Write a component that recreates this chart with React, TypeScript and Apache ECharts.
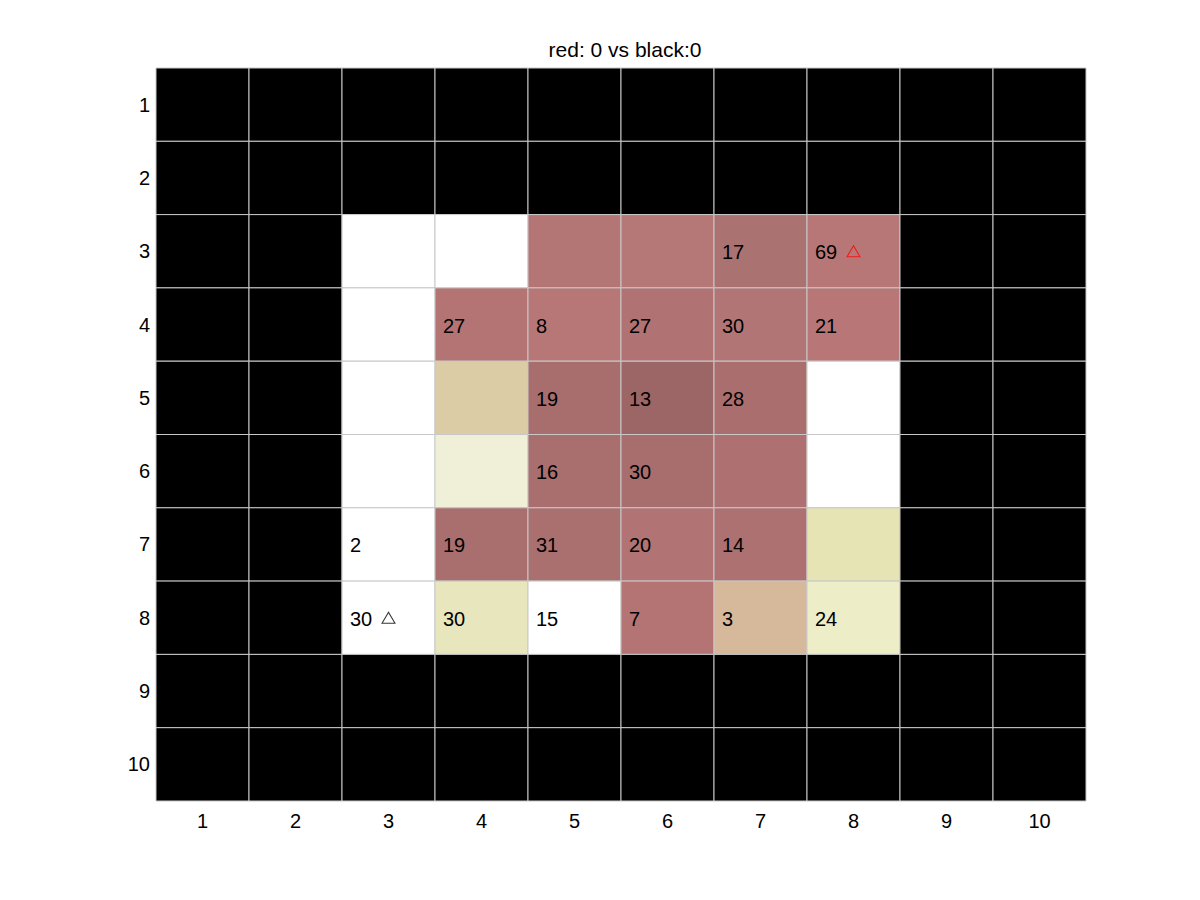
import React, { useEffect, useRef } from "react";
import * as echarts from "echarts";

const xLabels = ["1", "2", "3", "4", "5", "6", "7", "8", "9", "10"];
const yLabels = ["1", "2", "3", "4", "5", "6", "7", "8", "9", "10"];

const K = "#000000";
const W = "#ffffff";
// cell colours, row by row (row 1 at top), column 1..10
const cellColors: string[][] = [
  [K, K, K, K, K, K, K, K, K, K],
  [K, K, K, K, K, K, K, K, K, K],
  [K, K, W, W, "#b47575", "#b67777", "#ab7272", "#b87777", K, K],
  [K, K, W, "#b47474", "#b77777", "#b07272", "#b27575", "#b87676", K, K],
  [K, K, W, "#dbcca5", "#a86e6e", "#9d6666", "#aa6e6e", W, K, K],
  [K, K, W, "#f0f0d8", "#a96e6e", "#a86e6e", "#ae7070", W, K, K],
  [K, K, W, "#a96e6e", "#aa6f6f", "#b17373", "#ad7171", "#e6e4b4", K, K],
  [K, K, W, "#e8e6bc", W, "#b47474", "#d6b89a", "#ededc8", K, K],
  [K, K, K, K, K, K, K, K, K, K],
  [K, K, K, K, K, K, K, K, K, K],
];

// [column, row, text]
const cellTexts: [number, number, string][] = [
  [7, 3, "17"], [8, 3, "69"],
  [4, 4, "27"], [5, 4, "8"], [6, 4, "27"], [7, 4, "30"], [8, 4, "21"],
  [5, 5, "19"], [6, 5, "13"], [7, 5, "28"],
  [5, 6, "16"], [6, 6, "30"],
  [3, 7, "2"], [4, 7, "19"], [5, 7, "31"], [6, 7, "20"], [7, 7, "14"],
  [3, 8, "30"], [4, 8, "30"], [5, 8, "15"], [6, 8, "7"], [7, 8, "3"], [8, 8, "24"],
];

// [column, row, colour]
const markers: [number, number, string][] = [
  [8, 3, "#ff0000"],
  [3, 8, "#000000"],
];

const titleText = "red: 0 vs black:0";
const FONT = "'Liberation Sans', Arial, sans-serif";

export default function App() {
  const ref = useRef<HTMLDivElement>(null);
  useEffect(() => {
    document.body.style.margin = "0";
    const chart = echarts.init(ref.current!, null, { renderer: "svg" });
    const cellData: number[][] = [];
    const cellFill: string[] = [];
    cellColors.forEach((row, r) =>
      row.forEach((c, ci) => {
        cellData.push([ci, r]);
        cellFill.push(c);
      })
    );
    const textData = cellTexts.map(([c, r]) => [c - 1, r - 1]);
    chart.setOption({
      animation: false,
      backgroundColor: "#ffffff",
      title: {
        text: titleText,
        left: 620,
        textAlign: "center",
        top: 34,
        textStyle: { fontFamily: FONT, fontSize: 21, fontWeight: "normal", color: "#000" },
      },
      grid: { left: 156, top: 68, right: 114, bottom: 99 },
      xAxis: {
        type: "category",
        data: xLabels,
        position: "bottom",
        axisLine: { show: false },
        axisTick: { show: false },
        splitLine: { show: false },
        axisLabel: { margin: 10, fontFamily: FONT, fontSize: 20, color: "#000" },
      },
      yAxis: {
        type: "category",
        data: yLabels,
        inverse: true,
        axisLine: { show: false },
        axisTick: { show: false },
        splitLine: { show: false },
        axisLabel: { margin: 6, fontFamily: FONT, fontSize: 20, color: "#000" },
      },
      series: [
        {
          type: "custom",
          data: cellData,
          renderItem: (params: any, api: any) => {
            const p = api.coord([api.value(0), api.value(1)]);
            const s = api.size([1, 1]);
            return {
              type: "rect",
              shape: { x: p[0] - s[0] / 2, y: p[1] - s[1] / 2, width: s[0], height: s[1] },
              style: { fill: cellFill[params.dataIndex], stroke: "#c8c8c8", lineWidth: 1 },
            };
          },
          z: 1,
        },
        {
          type: "custom",
          data: textData,
          renderItem: (params: any, api: any) => {
            const p = api.coord([api.value(0), api.value(1)]);
            const s = api.size([1, 1]);
            return {
              type: "text",
              x: p[0] - s[0] / 2 + 8,
              y: p[1] + 1,
              style: {
                text: cellTexts[params.dataIndex][2],
                fill: "#000",
                font: `20px ${FONT}`,
                align: "left",
                verticalAlign: "middle",
              },
            };
          },
          z: 2,
        },
        {
          type: "scatter",
          symbol: "triangle",
          symbolSize: [13, 11],
          data: markers.map(([c, r, col]) => ({
            value: [c - 1, r - 1],
            itemStyle: { color: "transparent", borderColor: col, borderWidth: 1 },
          })),
          z: 3,
        },
      ],
    });
    return () => chart.dispose();
  }, []);
  return <div ref={ref} style={{ width: 1200, height: 900 }} />;
}
